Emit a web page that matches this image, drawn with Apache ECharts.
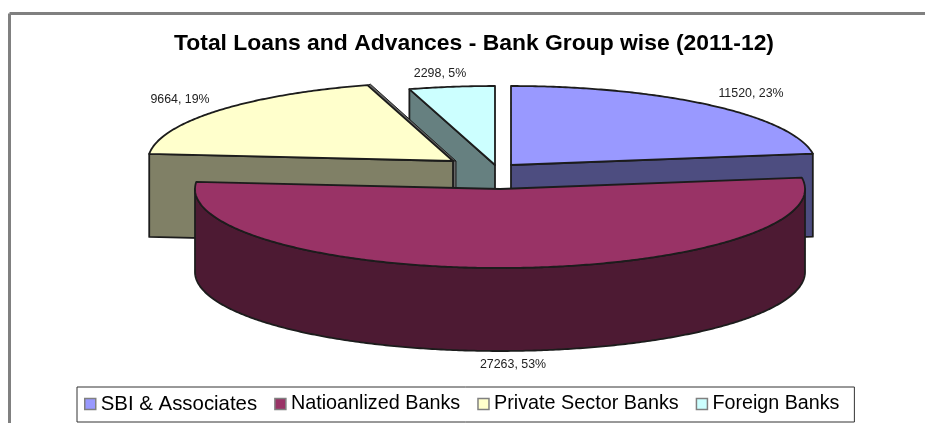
<!DOCTYPE html>
<html>
<head>
<meta charset="utf-8">
<style>html,body{margin:0;padding:0;background:#fff}#chart{width:925px;height:423px}</style>
<script src="https://cdn.jsdelivr.net/npm/echarts@6/dist/echarts.min.js"></script>
</head>
<body>
<div id="chart"></div>
<script>
// Bank group totals, 2011-12
const categories = ['SBI & Associates', 'Natioanlized Banks', 'Private Sector Banks', 'Foreign Banks'];
const loanValues = [11520, 27263, 9664, 2298];
const percentLabels = ['23%', '53%', '19%', '5%'];

// Pie geometry and styling
const topColors = ['#9999FF', '#993366', '#FFFFCC', '#CCFFFF'];
const sideColors = ['#4D4D80', '#4D1A33', '#808066', '#668080'];
const sliceCentres = [[511, 165], [500, 189], [453, 161], [495, 165]];
const labelAnchors = [[751, 94], [513, 365], [180, 100], [440, 74]];
const legendFontSizes = [20.4, 19.8, 19.8, 19.7];
const drawOrder = [3, 4, 2, 1];
const RX = 305, RY = 79, DEPTH = 83, EDGE = '#1c1c1c', EDGE_W = 1.8;

const total = loanValues.reduce(function (a, b) { return a + b; }, 0);
function startAngle(i) {
  let sum = 0;
  for (let k = 0; k < i; k++) sum += loanValues[k];
  return sum / total * Math.PI * 2;
}
function rim(c, a) {
  return [c[0] + RX * Math.sin(a), c[1] - RY * Math.cos(a)];
}
function arcPoints(c, a0, a1) {
  const n = Math.max(2, Math.ceil((a1 - a0) / 0.01));
  const pts = [];
  for (let k = 0; k <= n; k++) pts.push(rim(c, a0 + (a1 - a0) * k / n));
  return pts;
}
function down(p) { return [p[0], p[1] + DEPTH]; }
function face(points, fill) {
  return { type: 'polygon', shape: { points: points },
    style: { fill: fill, stroke: EDGE, lineWidth: EDGE_W, lineJoin: 'round' } };
}

function renderSlice(index) {
  return function (params, api) {
    const value = api.value(0);
    const c = sliceCentres[index];
    const a0 = startAngle(index);
    const a1 = a0 + value / total * Math.PI * 2;
    const apex = c;
    const children = [];
    // Thin grey lip along the far cut of a slice ending just short of the top
    if (Math.sin(a1) < -1e-6 && Math.cos(a1) > 0.5 && a1 < Math.PI * 1.95) {
      const p = rim(c, a1);
      const lip = { fill: '#666666', stroke: EDGE, lineWidth: 1 };
      children.push({ type: 'polygon', shape: { points: [p, [p[0] + 3, p[1] - 1], [apex[0] + 3, apex[1]], apex] }, style: lip });
      children.push({ type: 'polygon', shape: { points: [apex, [apex[0] + 3, apex[1]], [apex[0] + 3, apex[1] + DEPTH], down(apex)] }, style: lip });
    }
    // Cut faces turned towards the viewer
    if (Math.sin(a0) < -1e-6) {
      const p = rim(c, a0);
      children.push(face([p, apex, down(apex), down(p)], sideColors[index]));
    }
    if (Math.sin(a1) > 1e-6) {
      const p = rim(c, a1);
      children.push(face([apex, p, down(p), down(apex)], sideColors[index]));
    }
    // Outer wall: only its front half can be seen
    const f0 = Math.max(a0, Math.PI / 2), f1 = Math.min(a1, Math.PI * 1.5);
    if (f1 > f0) {
      const arc = arcPoints(c, f0, f1);
      children.push(face(arc.concat(arc.slice().reverse().map(down)), sideColors[index]));
    }
    // Top surface
    children.push(face([apex].concat(arcPoints(c, a0, a1)), topColors[index]));
    // Value and share label
    const anchor = labelAnchors[index];
    children.push({ type: 'text', z2: 50, style: {
      x: anchor[0], y: anchor[1], text: value + ', ' + percentLabels[index],
      fill: '#222222', font: '12.4px "Liberation Sans", Arial, sans-serif',
      align: 'center', verticalAlign: 'middle' } });
    return { type: 'group', children: children };
  };
}

const chart = echarts.init(document.getElementById('chart'), null, { renderer: 'canvas' });
chart.setOption({
  animation: false,
  backgroundColor: '#ffffff',
  title: {
    text: 'Total Loans and Advances - Bank Group wise (2011-12)',
    left: 174, top: 32, padding: 0,
    textStyle: { fontFamily: '"Liberation Sans", Arial, sans-serif', fontWeight: 'bold', fontSize: 22.9, color: '#000000' }
  },
  legend: {
    data: categories.map(function (name, i) {
      return { name: name, textStyle: { fontSize: legendFontSizes[i] } };
    }),
    left: 77, top: 387,
    orient: 'horizontal',
    padding: [7, 15, 8, 7],
    icon: 'rect',
    itemWidth: 11, itemHeight: 11, itemGap: 17,
    borderColor: '#333333', borderWidth: 1,
    backgroundColor: '#ffffff',
    itemStyle: { borderColor: '#808080', borderWidth: 1.5 },
    selectedMode: false,
    textStyle: { fontFamily: '"Liberation Sans", Arial, sans-serif', fontSize: 20, color: '#000000', lineHeight: 19 }
  },
  graphic: [
    { type: 'line', shape: { x1: 9.5, y1: 13.5, x2: 925, y2: 13.5 }, style: { stroke: '#808080', lineWidth: 3 } },
    { type: 'line', shape: { x1: 9.5, y1: 13.5, x2: 9.5, y2: 423 }, style: { stroke: '#808080', lineWidth: 3 } }
  ],
  series: categories.map(function (name, i) {
    return {
      type: 'custom', name: name, coordinateSystem: 'none', silent: true,
      z: drawOrder[i],
      itemStyle: { color: topColors[i] },
      data: [[loanValues[i]]],
      renderItem: renderSlice(i)
    };
  })
});
</script>
</body>
</html>
